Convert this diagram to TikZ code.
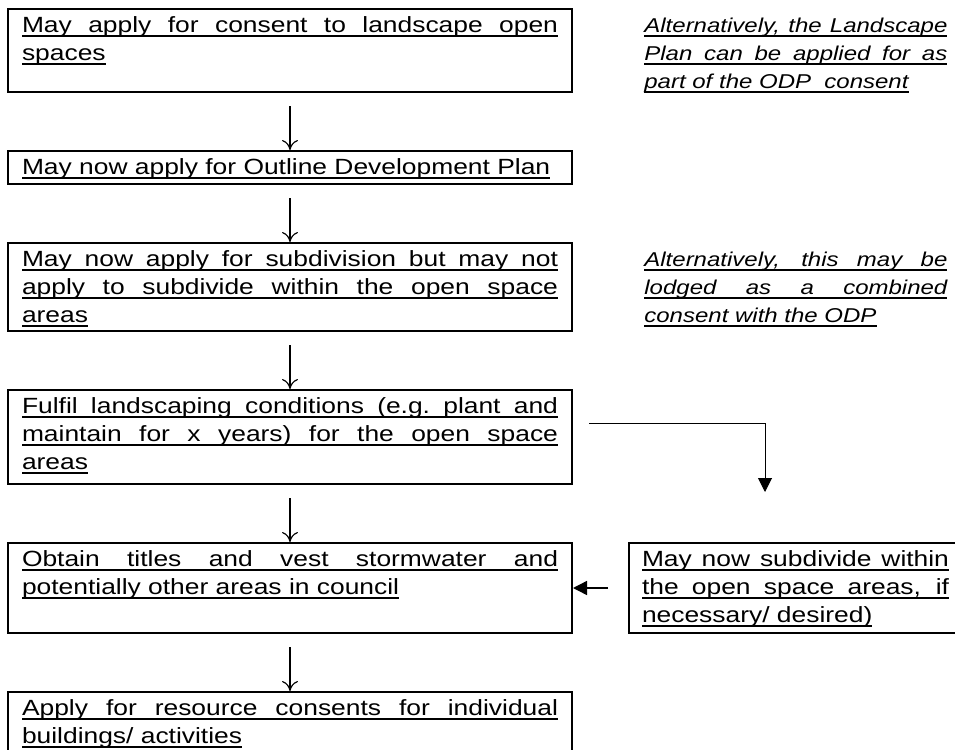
\documentclass[tikz,border=0pt]{standalone}
\usepackage{fontspec}
\setmainfont{Liberation Sans}[FakeStretch=1.2]
\usetikzlibrary{chains}
\usetikzlibrary{positioning}
\usetikzlibrary{arrows.meta}

% underlined lines: stretched to the full width, or at natural width
\newcommand{\ulfull}[1]{\leavevmode\hbox to\linewidth{\spaceskip=\fontdimen2\font plus 1fil\relax\rlap{\vrule height -1.6pt depth 2.4pt width\linewidth}#1}\par}
\newcommand{\ulshort}[1]{\leavevmode\setbox0\hbox{#1}\hbox{\rlap{\vrule height -1.6pt depth 2.4pt width\wd0}\box0}\par}

\begin{document}
\begin{tikzpicture}[
	x=0.5pt, y=-0.5pt,
	start chain=1 going below,
	node distance=28.5pt,
	stage/.style={
		on chain=1,
		rectangle,
		draw=black,
		line width=1pt,
		text width=268pt,
		inner xsep=7pt,
		inner ysep=0pt,
		text height=11.5pt,
		text depth=#1,
		font=\fontsize{11pt}{14pt}\selectfont
		},
	stage/.default=33.5pt,
	side/.style={
		rectangle,
		draw=black,
		line width=1pt,
		text width=153.5pt,
		inner xsep=6.5pt,
		inner ysep=0pt,
		text height=11.5pt,
		text depth=33.5pt,
		font=\fontsize{11pt}{14pt}\selectfont
		},
	note/.style={
		text width=151.5pt,
		inner sep=0pt,
		font=\fontsize{10pt}{14pt}\selectfont\itshape
		},
	flow/.style={
		-{Computer Modern Rightarrow[length=5pt,width=8pt]},
		line width=0.6pt
		},
	feed/.style={
		-{Triangle[length=7pt,width=7pt]},
		line width=0.7pt
		}
]

\useasboundingbox (0,0) rectangle (955,750);

% Stages
\node [stage=30pt, anchor=north west] (consent) at (7,8) {\ulfull{May apply for consent to landscape open}\ulshort{spaces}};
\node [stage=5pt] (odp) {\ulshort{May now apply for Outline Development Plan}};
\node [stage=32.5pt] (subdivision) {\ulfull{May now apply for subdivision but may not}\ulfull{apply to subdivide within the open space}\ulshort{areas}};
\node [stage=35.5pt] (landscaping) {\ulfull{Fulfil landscaping conditions (e.g.\ plant and}\ulfull{maintain for x years) for the open space}\ulshort{areas}};
\node [stage] (titles) {\ulfull{Obtain titles and vest stormwater and}\ulshort{potentially other areas in council}};
\node [stage] (resource) {\ulfull{Apply for resource consents for individual}\ulshort{buildings/ activities}};

% Side box
\node [side, right=27.5pt of titles] (subdivide) {\ulfull{May now subdivide within}\ulfull{the open space areas, if}\ulshort{necessary/ desired)}};

% Notes
\node [note, anchor=base west] (altlandscape) at ([xshift=35.5pt]consent.base east) {\ulfull{Alternatively, the Landscape}\ulfull{Plan can be applied for as}\ulshort{part of the ODP\ \ consent}};
\node [note, anchor=base west] (altcombined) at ([xshift=35.5pt]subdivision.base east) {\ulfull{Alternatively, this may be}\ulfull{lodged as a combined}\ulshort{consent with the ODP}};

% Arrows
\draw [flow] ([yshift=-6.5pt]consent.south) -- (odp.north);
\draw [flow] ([yshift=-6.5pt]odp.south) -- (subdivision.north);
\draw [flow] ([yshift=-6.5pt]subdivision.south) -- (landscaping.north);
\draw [flow] ([yshift=-6.5pt]landscaping.south) -- (titles.north);
\draw [flow] ([yshift=-6.5pt]titles.south) -- (resource.north);

\coordinate (drop) at ([xshift=68.5pt,yshift=25pt]subdivide.north west);
\draw [feed, line width=0.5pt] ([xshift=8pt,yshift=7pt]landscaping.east) -| (drop);
\draw [feed] ([xshift=-10pt]subdivide.west) -- (titles.east);

\end{tikzpicture}
\end{document}
